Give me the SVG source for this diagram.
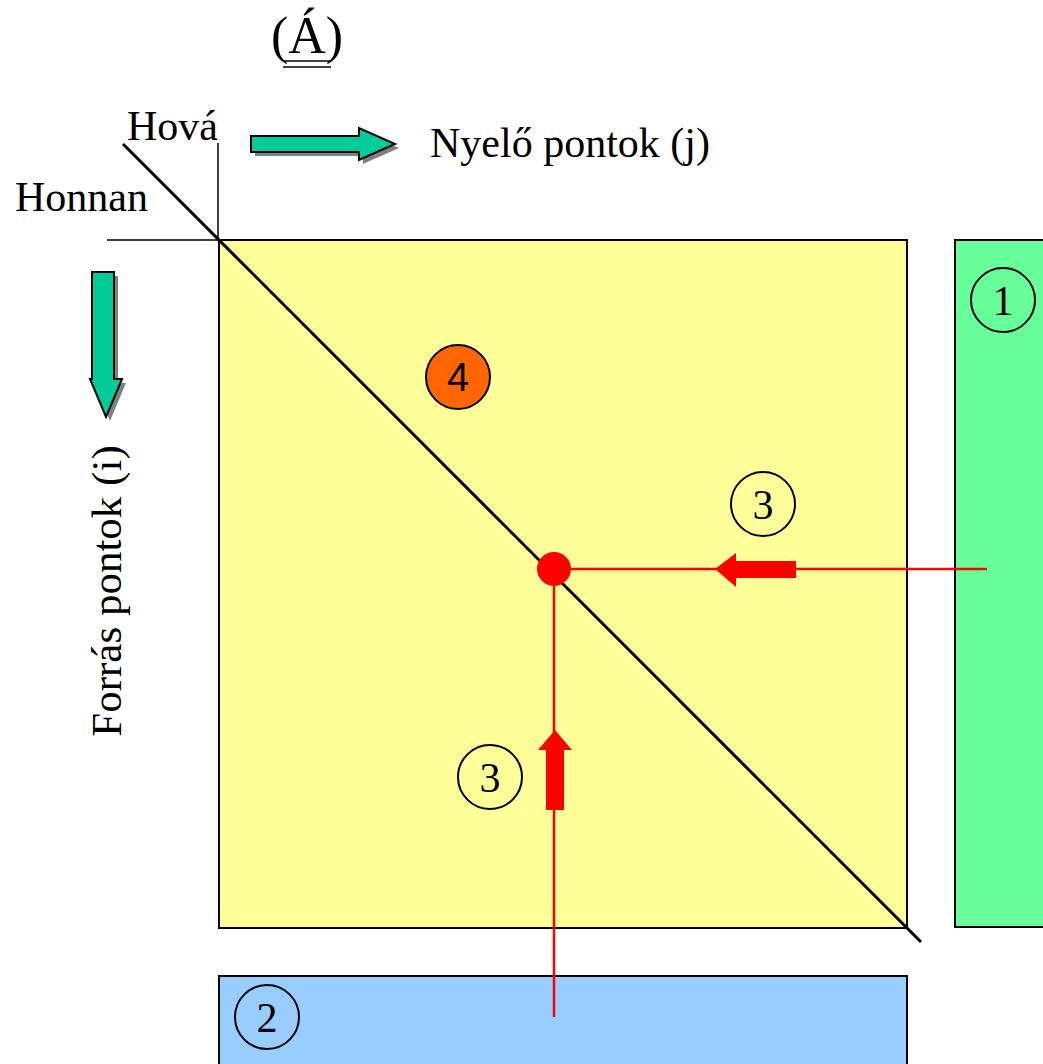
<svg xmlns="http://www.w3.org/2000/svg" width="1043" height="1064" viewBox="0 0 1043 1064">
<style>
.t{font-family:"Liberation Serif",serif;fill:#000}
.c{fill:none;stroke:#000;stroke-width:2}
.n{font-family:"Liberation Serif",serif;font-size:42px;text-anchor:middle}
.red{stroke:#FF0000;stroke-width:2.5;fill:none}
.ga{fill:#00CC99;stroke:#000;stroke-width:2}
.sh{fill:#808080}
</style>
<rect width="1043" height="1064" fill="#fff"/>
<g id="title">
<text class="t" x="307" y="53" font-size="52" text-anchor="middle">(Á)</text>
<line x1="283" y1="61" x2="331" y2="61" stroke="#000" stroke-width="1.5"/>
<line x1="283" y1="67" x2="331" y2="67" stroke="#000" stroke-width="1.5"/>
</g>
<g id="yellow">
<rect x="219" y="240" width="688" height="688" fill="#FFFF99" stroke="#000" stroke-width="2"/>
</g>
<g id="green">
<rect x="955" y="240" width="100" height="687" fill="#66FF99" stroke="#000" stroke-width="2"/>
<circle class="c" cx="1003" cy="300" r="32"/>
<text class="n" x="1003" y="315">1</text>
</g>
<g id="blue">
<rect x="219" y="976" width="688" height="100" fill="#99CCFF" stroke="#000" stroke-width="2"/>
<circle class="c" cx="267" cy="1017" r="32"/>
<text class="n" x="267" y="1032">2</text>
</g>
<g id="axes">
<line x1="218" y1="143" x2="218" y2="240" stroke="#000" stroke-width="1.5"/>
<line x1="107" y1="240" x2="219" y2="240" stroke="#000" stroke-width="1.5"/>
<line x1="123" y1="144" x2="921" y2="942" stroke="#000" stroke-width="3"/>
<text class="t" x="127" y="140" font-size="42">Hová</text>
<text class="t" x="15" y="211" font-size="42">Honnan</text>
<text class="t" x="430" y="157" font-size="42">Nyelő pontok (j)</text>
<text class="t" x="0" y="0" font-size="43" text-anchor="middle" transform="translate(121,591) rotate(-90)">Forrás pontok (i)</text>
</g>
<g id="arrow-right">
<polygon class="sh" points="255,140 363,140 363,132 399,148 363,164 363,156 255,156"/>
<polygon class="ga" points="251,136 359,136 359,128 395,144 359,160 359,152 251,152"/>
</g>
<g id="arrow-down">
<polygon class="sh" points="96,276 118,276 118,383 126,383 110,421 94,383 96,383"/>
<polygon class="ga" points="92,272 114,272 114,379 122,379 106,417 90,379 92,379"/>
</g>
<g id="node4">
<circle cx="458" cy="377" r="32" fill="#FF6600" stroke="#000" stroke-width="2"/>
<text x="458" y="391" font-size="40" text-anchor="middle" font-family="Liberation Sans,sans-serif">4</text>
</g>
<g id="node3a">
<circle class="c" cx="763" cy="504" r="32"/>
<text class="n" x="763" y="519">3</text>
</g>
<g id="node3b">
<circle class="c" cx="490" cy="777" r="32"/>
<text class="n" x="490" y="792">3</text>
</g>
<g id="connectors">
<line class="red" x1="554" y1="569" x2="987" y2="569"/>
<line class="red" x1="554" y1="569" x2="554" y2="1017"/>
<polygon fill="#FF0000" points="796,561 736,561 736,553 715,569 736,587 736,578 796,578"/>
<polygon fill="#FF0000" points="546,810 546,750 538,750 555,730 572,750 564,750 564,810"/>
<circle cx="554" cy="569" r="17" fill="#FF0000"/>
</g>
</svg>
